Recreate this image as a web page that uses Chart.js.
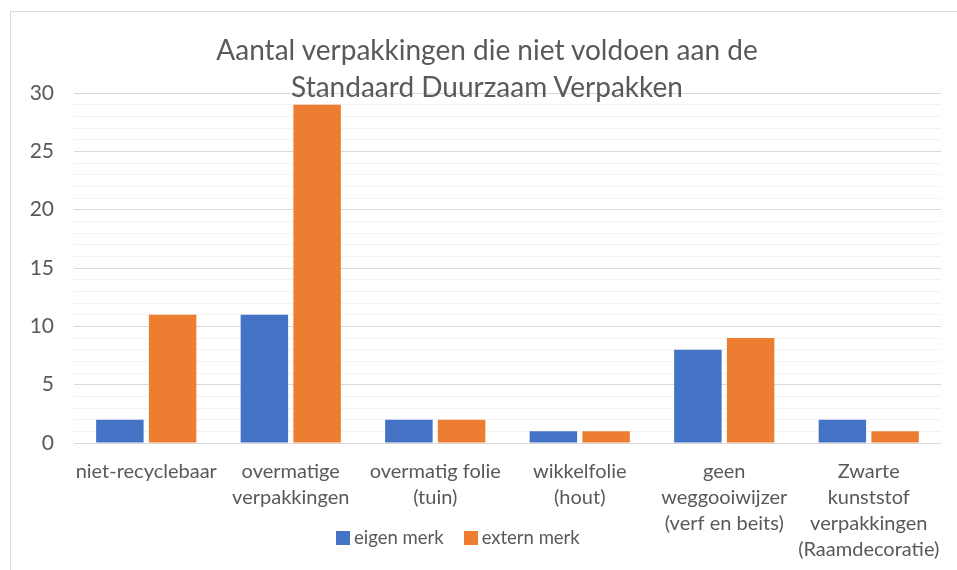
<!DOCTYPE html>
<html>
<head>
<meta charset="utf-8">
<script src="https://cdn.jsdelivr.net/npm/chart.js@4.4.1/dist/chart.umd.min.js"></script>
<style>
  html, body { margin: 0; padding: 0; background: #fff; }
  #wrap { position: relative; width: 957px; height: 570px; overflow: hidden; }
  #frame { position: absolute; left: 10px; top: 11px; width: 1000px; height: 600px;
           border-left: 1px solid #d9d9d9; border-top: 1px solid #d9d9d9; }
  #title { position: absolute; left: 0; width: 974px; top: 31px; text-align: center;
           font-family: Lato, sans-serif; font-size: 28px; line-height: 37px; color: #595959; }
  #legend { position: absolute; left: 336px; top: 526px; font-family: Lato, sans-serif;
            font-size: 18.5px; color: #595959; white-space: nowrap; }
  #legend span.sw { display: inline-block; width: 14px; height: 14px; vertical-align: -1px; margin-right: 4px; }
  #legend span.it { margin-right: 20px; }
  canvas { position: absolute; left: 0; top: 0; }
</style>
</head>
<body>
<div id="wrap">
  <div id="frame"></div>
  <canvas id="chart" width="957" height="570"></canvas>
  <div id="title">Aantal verpakkingen die niet voldoen aan de<br>Standaard Duurzaam Verpakken</div>
  <div id="legend"></div>
</div>
<script>
// --- DATA ---
const categories = [
    ['niet-recyclebaar'],
    ['overmatige', 'verpakkingen'],
    ['overmatig folie', '(tuin)'],
    ['wikkelfolie', '(hout)'],
    ['geen', 'weggooiwijzer', '(verf en beits)'],
    ['Zwarte', 'kunststof', 'verpakkingen', '(Raamdecoratie)']
];
const seriesNames = ['eigen merk', 'extern merk'];
const eigenMerk = [2, 11, 2, 1, 8, 2];
const externMerk = [11, 29, 2, 1, 9, 1];
const yTicks = [0, 5, 10, 15, 20, 25, 30];

const COLORS = ['#4472C4', '#ED7D31'];
const TEXT = '#595959';
const FONT = 'Lato, sans-serif';

// --- LEGEND (html) ---
const legend = document.getElementById('legend');
seriesNames.forEach((name, i) => {
    const it = document.createElement('span');
    it.className = 'it';
    it.innerHTML = `<span class="sw" style="background:${COLORS[i]}"></span>${name}`;
    legend.appendChild(it);
});

// --- CHART ---
const ctx = document.getElementById('chart').getContext('2d');
new Chart(ctx, {
    type: 'bar',
    data: {
        labels: categories,
        datasets: [
            { label: seriesNames[0], data: eigenMerk, backgroundColor: COLORS[0] },
            { label: seriesNames[1], data: externMerk, backgroundColor: COLORS[1] }
        ]
    },
    options: {
        responsive: false,
        animation: false,
        categoryPercentage: 0.73,
        barPercentage: 0.9,
        layout: { padding: { left: 10, right: 16, top: 93, bottom: 0 } },
        plugins: { legend: { display: false }, title: { display: false }, tooltip: { enabled: false } },
        scales: {
            x: {
                grid: { display: false },
                border: { display: false },
                ticks: {
                    color: TEXT, font: { family: FONT, size: 20, lineHeight: 1.3 },
                    maxRotation: 0, autoSkip: false, padding: 8
                },
                afterFit: s => { s.height = 127; }
            },
            y: {
                min: 0, max: 30,
                border: { display: false },
                grid: {
                    drawTicks: false,
                    color: c => (yTicks.includes(c.tick.value) ? '#d9d9d9' : '#f2f2f2'),
                    lineWidth: 1
                },
                ticks: {
                    stepSize: 1, autoSkip: false, color: TEXT, padding: 20,
                    font: { family: FONT, size: 21 },
                    callback: v => (yTicks.includes(v) ? v : '')
                },
                afterFit: s => { s.width = 64; }
            }
        }
    }
});
</script>
</body>
</html>
